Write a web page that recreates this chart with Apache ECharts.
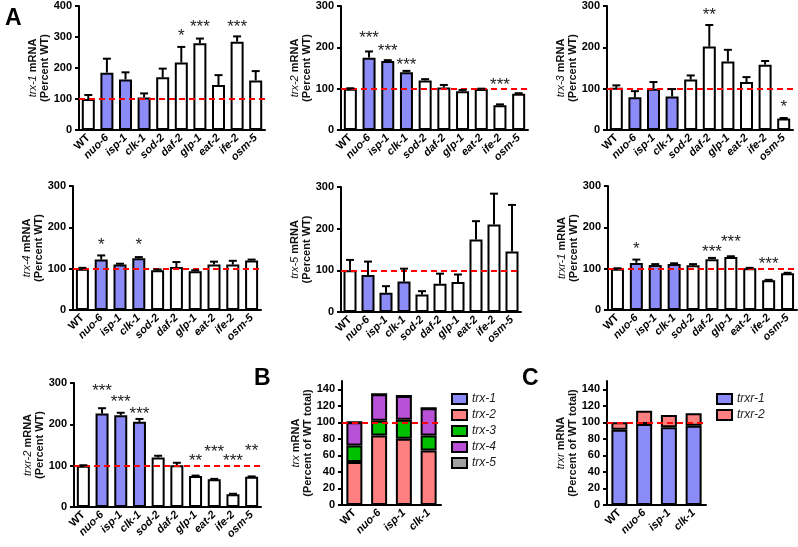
<!DOCTYPE html>
<html>
<head>
<meta charset="utf-8">
<script src="https://cdn.jsdelivr.net/npm/echarts@6/dist/echarts.min.js"></script>
<style>
  html, body { margin: 0; padding: 0; background: #fff; }
  #main { width: 798px; height: 547px; }
</style>
</head>
<body>
<div id="main"></div>
<script>
// genotypes on the x axes of the single-gene panels
var genotypes = ['WT', 'nuo-6', 'isp-1', 'clk-1', 'sod-2', 'daf-2', 'glp-1', 'eat-2', 'ife-2', 'osm-5'];
var mitoMutants = ['nuo-6', 'isp-1', 'clk-1'];

// mean (% of WT), SEM, significance marks and the height (axis units) the marks sit at
var trx1Mean = [100, 185, 163, 105, 170, 218, 280, 145, 285, 160];
var trx1Err = [13, 45, 23, 13, 28, 50, 15, 32, 17, 30];
var trx1Sig = ['', '', '', '', '', '*', '***', '', '***', ''];
var trx1SigAt = [null, null, null, null, null, 316, 345, null, 345, null];

var trx2Mean = [100, 175, 167, 140, 120, 103, 94, 99, 60, 88];
var trx2Err = [1, 15, 2, 3, 3, 6, 3, 1, 2, 1];
var trx2Sig = ['', '***', '***', '***', '', '', '', '', '***', ''];
var trx2SigAt = [null, 232, 201, 167, null, null, null, null, 119, null];

var trx3Mean = [102, 79, 100, 81, 122, 202, 166, 116, 158, 28];
var trx3Err = [6, 15, 16, 18, 10, 52, 28, 12, 9, 1];
var trx3Sig = ['', '', '', '', '', '**', '', '', '', '*'];
var trx3SigAt = [null, null, null, null, null, 286, null, null, null, 65];

var trx4Mean = [100, 122, 110, 125, 96, 104, 94, 110, 110, 120];
var trx4Err = [2, 10, 2, 3, 2, 12, 2, 7, 9, 2];
var trx4Sig = ['', '*', '', '*', '', '', '', '', '', ''];
var trx4SigAt = [null, 167, null, 167, null, null, null, null, null, null];

var trx5Mean = [100, 89, 46, 73, 42, 68, 72, 174, 210, 145];
var trx5Err = [25, 32, 16, 31, 8, 24, 18, 44, 74, 112];
var trx5Sig = ['', '', '', '', '', '', '', '', '', ''];
var trx5SigAt = [null, null, null, null, null, null, null, null, null, null];

var trxr1Mean = [100, 114, 109, 111, 108, 123, 128, 101, 72, 89];
var trxr1Err = [1, 8, 2, 2, 3, 3, 2, 1, 1, 1];
var trxr1Sig = ['', '*', '', '', '', '***', '***', '', '***', ''];
var trxr1SigAt = [null, 157, null, null, null, 150, 174, null, 121, null];

var trxr2Mean = [100, 226, 222, 206, 120, 101, 75, 67, 31, 73];
var trxr2Err = [1, 13, 6, 7, 4, 6, 1, 1, 1, 1];
var trxr2Sig = ['', '***', '***', '***', '', '', '**', '***', '***', '**'];
var trxr2SigAt = [null, 290, 264, 235, null, null, 121, 143, 121, 145];

// panels B and C: share of the WT total
var stackGenotypes = ['WT', 'nuo-6', 'isp-1', 'clk-1'];
var trx1Share = [0, 0, 0, 0];
var trx2Share = [52, 84, 80, 66];
var trx3Share = [20, 18, 23, 18];
var trx4Share = [28, 32, 29, 33];
var trx5Share = [0, 0, 0, 0];
var trxr1Share = [91, 98, 94, 96];
var trxr2Share = [9, 16, 15, 15];
var shareTicks = [0, 20, 40, 60, 80, 100, 120, 140];

var FONT = '"Liberation Sans", Arial, sans-serif';
var BLUE = '#8c8cf8';
var SALMON = '#ff8080';
var GREEN = '#00c000';
var PURPLE = '#b950d8';
var GREY = '#a0a0a0';

var panels = [
    {gene: 'trx-1', mean: trx1Mean, err: trx1Err, sig: trx1Sig, sigAt: trx1SigAt, max: 400, grid: {left: 79, top: 6, width: 186, height: 124}},
    {gene: 'trx-2', mean: trx2Mean, err: trx2Err, sig: trx2Sig, sigAt: trx2SigAt, max: 300, grid: {left: 341, top: 6, width: 187, height: 124}},
    {gene: 'trx-3', mean: trx3Mean, err: trx3Err, sig: trx3Sig, sigAt: trx3SigAt, max: 300, grid: {left: 607, top: 6, width: 186, height: 124}},
    {gene: 'trx-4', mean: trx4Mean, err: trx4Err, sig: trx4Sig, sigAt: trx4SigAt, max: 300, grid: {left: 73, top: 186, width: 188, height: 124}},
    {gene: 'trx-5', mean: trx5Mean, err: trx5Err, sig: trx5Sig, sigAt: trx5SigAt, max: 300, grid: {left: 341, top: 187, width: 180, height: 125}},
    {gene: 'trxr-1', mean: trxr1Mean, err: trxr1Err, sig: trxr1Sig, sigAt: trxr1SigAt, max: 300, grid: {left: 608, top: 186, width: 189, height: 124}},
    {gene: 'trxr-2', mean: trxr2Mean, err: trxr2Err, sig: trxr2Sig, sigAt: trxr2SigAt, max: 300, grid: {left: 74, top: 383, width: 187, height: 124}}
];

var axisLine = {lineStyle: {color: '#000', width: 2}};
var yLabel = {fontFamily: FONT, fontWeight: 'bold', fontSize: 11, color: '#000', margin: 7};
var nameRich = {
    i: {fontFamily: FONT, fontStyle: 'italic', fontSize: 11, color: '#111', lineHeight: 12},
    b: {fontFamily: FONT, fontWeight: 'bold', fontSize: 11, color: '#111', lineHeight: 12}
};
var xLabel = {
    rotate: 45, interval: 0, margin: 6,
    formatter: function(v) { return v === 'WT' ? '{n|WT}' : '{i|' + v + '}'; },
    rich: {
        n: {fontFamily: FONT, fontWeight: 'bold', fontSize: 11, color: '#000'},
        i: {fontFamily: FONT, fontWeight: 'bold', fontStyle: 'italic', fontSize: 11, color: '#000'}
    }
};
var redLine = {
    silent: true, symbol: 'none', label: {show: false},
    lineStyle: {color: '#ff0000', type: [6, 4], width: 2},
    data: [{yAxis: 100}]
};

function yName(gene, second) {
    return '{i|' + gene + '}{b| mRNA}\n{b|' + second + '}';
}

var grids = [], xAxes = [], yAxes = [], series = [];

panels.forEach(function(p, k) {
    grids.push(p.grid);
    xAxes.push({type: 'category', gridIndex: k, data: genotypes, axisLine: axisLine,
        axisTick: {alignWithLabel: true, length: 4, lineStyle: {color: '#000', width: 2}}, axisLabel: xLabel});
    yAxes.push({type: 'value', gridIndex: k, min: 0, max: p.max, interval: 100,
        axisLine: {show: true, lineStyle: {color: '#000', width: 2}}, axisTick: {show: true, length: 4, lineStyle: {color: '#000', width: 2}},
        axisLabel: yLabel, splitLine: {show: false},
        name: yName(p.gene, '(Percent WT)'), nameLocation: 'middle', nameRotate: 90, nameGap: 28,
        nameMoveOverlap: false,
        nameTextStyle: {rich: nameRich}});
    series.push({
        type: 'bar', xAxisIndex: k, yAxisIndex: k, barWidth: 13,
        data: p.mean.map(function(v, i) {
            return {value: v, itemStyle: {color: mitoMutants.indexOf(genotypes[i]) >= 0 ? BLUE : '#fff'}};
        }),
        itemStyle: {borderColor: '#000', borderWidth: 2},
        markLine: redLine
    });
    series.push({
        type: 'custom', xAxisIndex: k, yAxisIndex: k, clip: false, z: 5,
        data: p.mean.map(function(v, i) { return [i, v, p.err[i]]; }),
        renderItem: function(params, api) {
            var i = api.value(0), m = api.value(1), e = api.value(2);
            var base = api.coord([i, m]);
            var tip = api.coord([i, m + e]);
            var half = 4;
            var kids = [
                {type: 'line', shape: {x1: base[0], y1: base[1], x2: tip[0], y2: tip[1]}, style: {stroke: '#000', lineWidth: 2}},
                {type: 'line', shape: {x1: tip[0] - half, y1: tip[1], x2: tip[0] + half, y2: tip[1]}, style: {stroke: '#000', lineWidth: 2}}
            ];
            var s = p.sig[params.dataIndex];
            if (s) {
                var at = api.coord([i, p.sigAt[params.dataIndex]]);
                kids.push({type: 'text', x: at[0], y: at[1] + 4,
                    style: {text: s, align: 'center', verticalAlign: 'middle', fontFamily: FONT, fontSize: 17, fill: '#222'}});
            }
            return {type: 'group', children: kids};
        }
    });
});

// stacked panels B and C
var stacks = [
    {grid: {left: 342, top: 381, width: 99, height: 124}, gene: 'trx', stack: 'trx',
     parts: [['trx-1', trx1Share, BLUE], ['trx-2', trx2Share, SALMON], ['trx-3', trx3Share, GREEN], ['trx-4', trx4Share, PURPLE], ['trx-5', trx5Share, GREY]],
     legend: {left: 446, top: 388}},
    {grid: {left: 607, top: 381, width: 99, height: 124}, gene: 'trxr', stack: 'trxr',
     parts: [['trxr-1', trxr1Share, BLUE], ['trxr-2', trxr2Share, SALMON]],
     legend: {left: 711, top: 388}}
];
var legends = [];
stacks.forEach(function(s) {
    var k = grids.length;
    grids.push(s.grid);
    xAxes.push({type: 'category', gridIndex: k, data: stackGenotypes, axisLine: axisLine,
        axisTick: {alignWithLabel: true, length: 4, lineStyle: {color: '#000', width: 2}}, axisLabel: xLabel});
    yAxes.push({type: 'value', gridIndex: k, min: 0, max: 150, interval: 20,
        axisLine: {show: true, lineStyle: {color: '#000', width: 2}},
        axisTick: {show: true, length: 4, lineStyle: {color: '#000', width: 2}, customValues: shareTicks},
        axisLabel: Object.assign({customValues: shareTicks}, yLabel), splitLine: {show: false},
        name: yName(s.gene, '(Percent of WT total)'), nameLocation: 'middle', nameRotate: 90, nameGap: 28,
        nameMoveOverlap: false,
        nameTextStyle: {rich: nameRich}});
    s.parts.forEach(function(part, j) {
        series.push({
            name: part[0], type: 'bar', stack: s.stack, xAxisIndex: k, yAxisIndex: k, barWidth: 16,
            data: part[1],
            itemStyle: {color: part[2], borderColor: '#000', borderWidth: 2},
            markLine: j === s.parts.length - 1 ? redLine : undefined
        });
    });
    legends.push({
        orient: 'vertical', left: s.legend.left, top: s.legend.top,
        data: s.parts.map(function(p) { return p[0]; }),
        icon: 'rect', itemWidth: 15, itemHeight: 10, itemGap: 4, selectedMode: false,
        textStyle: {fontFamily: FONT, fontStyle: 'italic', fontSize: 12, color: '#222', lineHeight: 12}
    });
});

var myChart = echarts.init(document.getElementById('main'), null, {renderer: 'canvas'});
myChart.setOption({
    animation: false,
    backgroundColor: '#fff',
    grid: grids,
    xAxis: xAxes,
    yAxis: yAxes,
    legend: legends,
    series: series,
    graphic: [
        {type: 'text', left: 5, top: 7, style: {text: 'A', fontFamily: FONT, fontWeight: 'bold', fontSize: 23, fill: '#000'}},
        {type: 'text', left: 254, top: 367, style: {text: 'B', fontFamily: FONT, fontWeight: 'bold', fontSize: 23, fill: '#000'}},
        {type: 'text', left: 522, top: 367, style: {text: 'C', fontFamily: FONT, fontWeight: 'bold', fontSize: 23, fill: '#000'}}
    ]
});
</script>
</body>
</html>
